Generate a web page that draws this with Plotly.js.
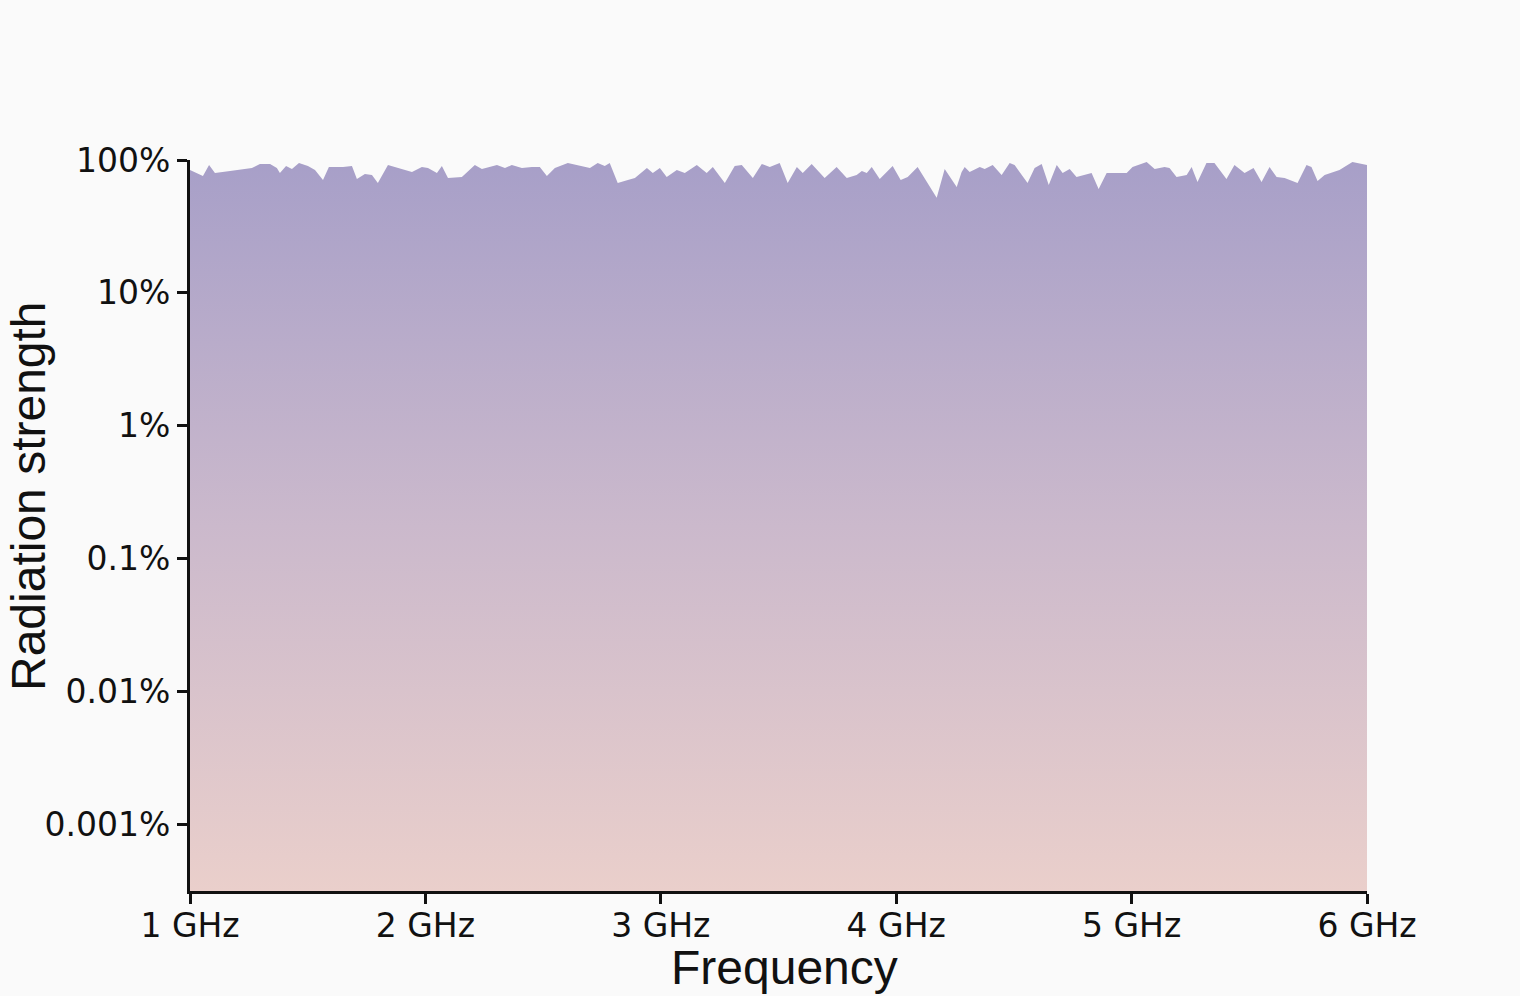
<!DOCTYPE html>
<html>
<head>
<meta charset="utf-8">
<script src="https://cdn.plot.ly/plotly-3.0.1.min.js"></script>
<style>
html,body{margin:0;padding:0;background:#fafafa;}
#chart{width:1520px;height:996px;}
</style>
</head>
<body>
<div id="chart"></div>
<script>
// Frequency (GHz)
const frequencyGHz = [1.000,1.055,1.081,1.106,1.170,1.221,1.263,1.297,1.340,1.369,1.382,1.408,1.433,1.463,1.501,1.531,1.565,1.590,1.650,1.688,1.709,1.743,1.773,1.798,1.841,1.870,1.943,1.985,2.011,2.049,2.070,2.096,2.155,2.210,2.240,2.304,2.338,2.367,2.410,2.452,2.486,2.516,2.550,2.605,2.643,2.699,2.732,2.762,2.783,2.817,2.860,2.890,2.941,2.966,2.996,3.025,3.068,3.102,3.153,3.195,3.221,3.272,3.314,3.344,3.391,3.429,3.463,3.505,3.539,3.578,3.603,3.641,3.696,3.747,3.790,3.832,3.854,3.875,3.896,3.930,3.985,4.019,4.049,4.091,4.172,4.206,4.257,4.278,4.291,4.312,4.355,4.376,4.410,4.448,4.482,4.503,4.558,4.588,4.618,4.648,4.682,4.707,4.737,4.766,4.830,4.860,4.894,4.936,4.979,5.004,5.064,5.098,5.140,5.161,5.191,5.234,5.255,5.280,5.318,5.352,5.403,5.437,5.480,5.518,5.552,5.586,5.616,5.650,5.705,5.743,5.764,5.790,5.820,5.883,5.938,6.000];
// Radiation strength (%)
const strengthPct = [84.1,75.9,91.7,79.9,82.7,85.6,87.1,93.3,93.3,87.1,79.9,90.2,85.6,94.9,90.2,84.1,70.8,88.6,88.6,90.2,72.0,78.5,77.2,67.2,91.7,88.6,81.3,88.6,87.1,79.9,90.2,73.3,74.6,91.7,85.6,91.7,87.1,91.7,87.1,88.6,88.6,75.9,87.1,94.9,91.7,87.1,94.9,90.2,94.9,67.2,70.8,73.3,87.1,79.9,87.1,74.6,84.1,79.9,91.7,79.9,88.6,67.2,90.2,91.7,73.3,93.3,88.6,94.9,67.2,88.6,79.9,93.3,73.3,88.6,73.3,77.2,82.7,79.9,88.6,72.0,90.2,70.8,74.6,88.6,51.9,85.6,62.7,81.3,88.6,81.3,88.6,85.6,91.7,77.2,94.9,91.7,67.2,87.1,93.3,64.9,91.7,79.9,85.6,74.6,79.9,60.6,79.9,79.9,79.9,88.6,96.6,85.6,88.6,87.1,74.6,77.2,88.6,68.4,94.9,94.9,72.0,91.7,79.9,87.1,68.4,88.6,74.6,73.3,67.2,91.7,88.6,69.6,77.2,84.1,96.6,91.7];
// Axis ticks
const xTickVals = [1,2,3,4,5,6];
const xTickText = ['1 GHz','2 GHz','3 GHz','4 GHz','5 GHz','6 GHz'];
const yTickVals = [100,10,1,0.1,0.01,0.001];
const yTickText = ['100%','10%','1%','0.1%','0.01%','0.001%'];

const trace = {
  x: frequencyGHz,
  y: strengthPct,
  type: 'scatter',
  mode: 'lines',
  line: {width: 0, color: 'rgba(0,0,0,0)'},
  fill: 'tozeroy',
  fillgradient: {
    type: 'vertical',
    start: 0.000316,
    stop: 100,
    colorscale: [[0,'#eacfcb'],[0.5,'#cbb9cc'],[1,'#a79fc8']]
  },
  hoverinfo: 'skip',
  showlegend: false
};

const tickFont = {family: 'DejaVu Sans', size: 33, color: '#111'};
const layout = {
  width: 1520, height: 996,
  paper_bgcolor: '#fafafa',
  plot_bgcolor: 'rgba(0,0,0,0)',
  margin: {l: 190, r: 153, t: 160, b: 105},
  xaxis: {
    range: [1, 6], showgrid: false, zeroline: false,
    tickvals: xTickVals, ticktext: xTickText,
    ticks: 'outside', ticklen: 10, tickwidth: 3, tickcolor: '#111',
    showline: true, linecolor: '#111', linewidth: 3,
    tickfont: tickFont, ticklabelstandoff: -7
  },
  yaxis: {
    type: 'log', range: [-3.5, 2], showgrid: false, zeroline: false,
    tickvals: yTickVals, ticktext: yTickText,
    ticks: 'outside', ticklen: 10, tickwidth: 3, tickcolor: '#111',
    showline: true, linecolor: '#111', linewidth: 3,
    tickfont: tickFont
  },
  annotations: [
    {text: 'Frequency', xref: 'paper', yref: 'paper', x: 0.5055, y: -0.105, yanchor: 'middle', xanchor: 'center',
     showarrow: false, font: {family: 'Liberation Sans', size: 48, color: '#111'}},
    {text: 'Radiation strength', xref: 'paper', yref: 'paper', x: -0.137, y: 0.540, xanchor: 'center', yanchor: 'middle',
     textangle: -90, showarrow: false, font: {family: 'Liberation Sans', size: 48, color: '#111'}}
  ]
};

Plotly.newPlot('chart', [trace], layout, {displayModeBar: false, staticPlot: true});
</script>
</body>
</html>
